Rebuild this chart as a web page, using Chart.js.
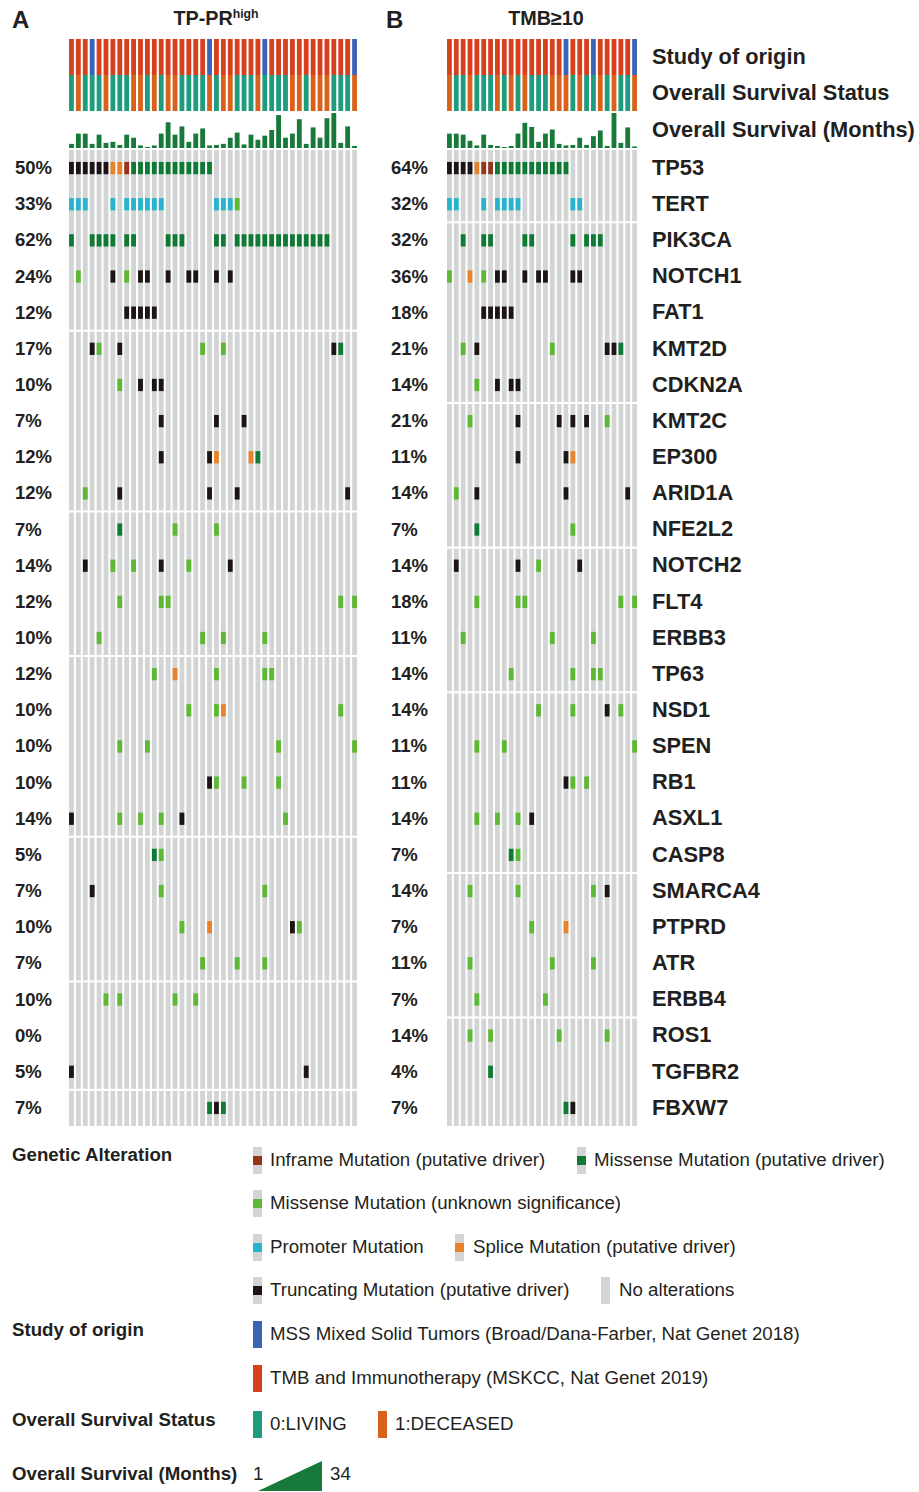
<!DOCTYPE html>
<html><head><meta charset="utf-8">
<script src="https://cdn.jsdelivr.net/npm/chart.js@4.4.0/dist/chart.umd.min.js"></script>
<style>
html,body{margin:0;padding:0}
body{width:919px;height:1492px;background:#fff;position:relative;overflow:hidden;font-family:"Liberation Sans",Arial,Helvetica,sans-serif;color:#231f20}
.abs{position:absolute;white-space:nowrap}
canvas{position:absolute;display:block}
sup{font-size:62%;vertical-align:0;position:relative;top:-0.55em}
</style></head><body>
<script>
// ---------------- DATA ----------------
const genes = ['TP53','TERT','PIK3CA','NOTCH1','FAT1','KMT2D','CDKN2A','KMT2C','EP300','ARID1A','NFE2L2','NOTCH2','FLT4','ERBB3','TP63','NSD1','SPEN','RB1','ASXL1','CASP8','SMARCA4','PTPRD','ATR','ERBB4','ROS1','TGFBR2','FBXW7'];
const pctA = ['50%','33%','62%','24%','12%','17%','10%','7%','12%','12%','7%','14%','12%','10%','12%','10%','10%','10%','14%','5%','7%','10%','7%','10%','0%','5%','7%'];
const pctB = ['64%','32%','32%','36%','18%','21%','14%','21%','11%','14%','7%','14%','18%','11%','14%','14%','11%','11%','14%','7%','14%','7%','11%','7%','14%','4%','7%'];

// Study of origin per sample: R = TMB and Immunotherapy (MSKCC), B = MSS Mixed Solid Tumors
const studyA = "RRRBRRRRRR"+"RRRRRRRRRR"+"BRRRRRRRBR"+"RRRRRRRRRR"+"RB";
const studyB = "RRRRRRRRRR"+"RRRRRRRBRR"+"RBRRRRRB";
// Overall survival status: L = 0:LIVING, D = 1:DECEASED
const statusA = "LDLLLDLLLD"+"DLDLDDLLLL"+"DLDDLLLDLL"+"LLDDLDDDLL"+"LD";
const statusB = "DLLDLLLDLD"+"LDLLLDDDLD"+"LLDLDLLD";
// Overall survival (months)
const survA = [4,14,14,4,13,5,6,3,13,10,2.5,1,2.5,14,25,13,21,6,14,19,2.5,3,4,10,15,3.5,13,8,12,17.5,32,10,14,28,4,20,10,29,34,5,21,2];
const survB = [14,14,13,7,2.5,13,3,2,1,2,14,24.5,20.5,6,14,18,4,2.5,3,10,3,11.5,17,2,34,5,20,1.5];

// Alterations (sample indices). T truncating, D missense driver, m missense unknown, P promoter, S splice, I inframe
const altA = [
 "T0-5 S6-7 I8 D9-20",            // TP53
 "P0-2,6,8-13,21-23 m24",         // TERT
 "D0,3-6,8-9,14-16,21-22,24-37",  // PIK3CA
 "m1,8 T6,10,11,14,17,18,21,23",  // NOTCH1
 "T8-12",                         // FAT1
 "T3,7,38 m4,19,22 D39",          // KMT2D
 "m7 T10,12,13",                  // CDKN2A
 "T13,21,25",                     // KMT2C
 "T13,20 S21,26 D27",             // EP300
 "m2 T7,20,24,40",                // ARID1A
 "D7 m15,21",                     // NFE2L2
 "T2,13,23 m6,9,17",              // NOTCH2
 "m7,13,14,39,41",                // FLT4
 "m4,19,22,28",                   // ERBB3
 "m12,21,28,29 S15",              // TP63
 "m17,21,39 S22",                 // NSD1
 "m7,11,30,41",                   // SPEN
 "T20 m21,25,30",                 // RB1
 "T0,16 m7,10,13,31",             // ASXL1
 "D12 m13",                       // CASP8
 "T3 m13,28",                     // SMARCA4
 "m16,33 S20 T32",                // PTPRD
 "m19,24,28",                     // ATR
 "m5,7,15,18",                    // ERBB4
 "",                              // ROS1
 "T0,34",                         // TGFBR2
 "D20,22 T21"                     // FBXW7
];
const altB = [
 "T0-3 S4 I5-6 D7-17",
 "P0,1,5,7-10,18,19",
 "D2,5,6,11,12,18,20-22",
 "m0,5 S3 T7,8,11,13,14,18,19",
 "T5-9",
 "m2,15 T4,23,24 D25",
 "m4 T7,9,10",
 "m3,23 T10,16,18,20",
 "T10,17 S18",
 "m1 T4,17,26",
 "D4 m18",
 "T1,10,19 m13",
 "m4,10,11,25,27",
 "m2,15,21",
 "m9,18,21,22",
 "m13,18,25 T23",
 "m4,8,27",
 "T17 m18,20",
 "m4,7,10 T12",
 "D9 m10",
 "m3,10,21 T23",
 "m12 S17",
 "m3,15,21",
 "m4,14",
 "m3,6,16,23",
 "D6",
 "D17 T18"
];
// row indices where a new block of the grid starts (thin white break)
const breaksA = [5,10,14,19,23,26];
const breaksB = [2,7,11,15,20,24];

// ---------------- STYLE ----------------
const ALT_COL = {T:'#1c1415', D:'#0e7a34', m:'#5db833', P:'#27b4cf', S:'#e8832b', I:'#973418'};
const STUDY_COL = {R:'#d6401d', B:'#3b63b6'};
const STATUS_COL = {L:'#1f9b7e', D:'#d8621b'};
const SURV_COL = '#17793a';
const GREY = '#d3d4d4';
const ROW_H = 36.15, GRID_TOP = 150;

function parseAlt(spec){
  const out=[];
  spec.split(/\s+/).filter(Boolean).forEach(tok=>{
    const code=tok[0];
    tok.slice(1).split(',').forEach(p=>{
      const [a,b]=p.split('-').map(Number);
      for(let k=a;k<=(isNaN(b)?a:b);k++) out.push({col:k,code});
    });
  });
  return out;
}

function baseOptions(yMin,yMax,reverse){
  return {
    responsive:false, animation:false, events:[],
    layout:{padding:0},
    plugins:{legend:{display:false},tooltip:{enabled:false}},
    datasets:{bar:{grouped:false,categoryPercentage:1,barPercentage:0.7,borderWidth:0}},
    scales:{
      x:{type:'category',display:false,offset:true,grid:{display:false}},
      y:{type:'linear',display:false,min:yMin,max:yMax,reverse:reverse,grid:{display:false}}
    }
  };
}
function mkCanvas(left,top,w,h){
  const c=document.createElement('canvas');
  c.width=w;c.height=h;c.style.left=left+'px';c.style.top=top+'px';
  c.style.width=w+'px';c.style.height=h+'px';
  document.body.appendChild(c);return c;
}
function text(html,x,yc,size,weight,align){
  const d=document.createElement('div');
  d.className='abs';
  d.style.fontSize=size+'px';d.style.fontWeight=weight||'normal';
  d.style.lineHeight=(size*1.4)+'px';d.style.height=(size*1.4)+'px';
  d.style.top=(yc-size*0.7)+'px';
  if(align==='center'){d.style.left=(x-200)+'px';d.style.width='400px';d.style.textAlign='center';}
  else d.style.left=x+'px';
  d.innerHTML=html;document.body.appendChild(d);return d;
}

function panel(cfg){
  const n=cfg.study.length;
  const labels=Array.from({length:n},(_,i)=>'S'+(i+1));
  // Study + status rows
  new Chart(mkCanvas(cfg.left,39,cfg.width,72),{
    type:'bar',
    data:{labels,datasets:[
      {data:labels.map(()=>[-0.5,0.5]),backgroundColor:cfg.study.split('').map(s=>STUDY_COL[s])},
      {data:labels.map(()=>[0.5,1.5]),backgroundColor:cfg.status.split('').map(s=>STATUS_COL[s])}
    ]},
    options:baseOptions(-0.5,1.5,true)
  });
  // Overall survival months
  new Chart(mkCanvas(cfg.left,112,cfg.width,36),{
    type:'bar',
    data:{labels,datasets:[{data:cfg.surv,backgroundColor:SURV_COL}]},
    options:baseOptions(0,35,false)
  });
  // Alteration grid
  const ds=[];
  const starts=[0,...cfg.breaks], ends=[...cfg.breaks.map(b=>b-1),genes.length-1];
  const G=0.028;
  starts.forEach((s,k)=>{
    const lo=(s===0?-0.5:s-0.5+G), hi=(ends[k]===genes.length-1?ends[k]+0.5:ends[k]+0.5-G);
    ds.push({data:labels.map(()=>[lo,hi]),backgroundColor:GREY,order:2});
  });
  const byCode={};
  cfg.alts.forEach((spec,r)=>{
    parseAlt(spec).forEach(a=>{
      (byCode[a.code]=byCode[a.code]||[]).push({x:labels[a.col],y:[r-0.17,r+0.17]});
    });
  });
  Object.keys(byCode).forEach(c=>ds.push({data:byCode[c],backgroundColor:ALT_COL[c],order:1}));
  const gh=Math.round(ROW_H*genes.length);
  const ch=new Chart(mkCanvas(cfg.left,GRID_TOP,cfg.width,gh),{
    type:'bar',data:{labels,datasets:ds},options:baseOptions(-0.5,genes.length-0.5,true)
  });
  const ys=ch.scales.y;
  cfg.pct.forEach((p,r)=>text(p,cfg.pctX,GRID_TOP+ys.getPixelForValue(r),18.5,'bold'));
  return ys;
}

const ysA=panel({study:studyA,status:statusA,surv:survA,alts:altA,breaks:breaksA,pct:pctA,pctX:15,left:67.5,width:290});
panel({study:studyB,status:statusB,surv:survB,alts:altB,breaks:breaksB,pct:pctB,pctX:391,left:445.5,width:192});

// gene names on the right
genes.forEach((g,r)=>text(g,652,GRID_TOP+ysA.getPixelForValue(r),21.8,'bold'));
text('Study of origin',652,57,21.8,'bold');
text('Overall Survival Status',652,93,21.8,'bold');
text('Overall Survival (Months)',652,130,21.8,'bold');

// panel titles
text('A',12,20,24,'bold');
text('B',386,20,24,'bold');
text('TP-PR<sup>high</sup>',216,19,19.8,'bold','center');
text('TMB≥10',546,19,19.8,'bold','center');

// ---------------- LEGEND ----------------
function swatch(x,yc,fill,full){
  const d=document.createElement('div');
  d.className='abs';
  d.style.left=x+'px';d.style.top=(yc-13.5)+'px';d.style.width='9px';d.style.height='27px';
  d.style.background=full?fill:GREY;
  if(!full&&fill){
    const b=document.createElement('div');
    b.style.position='absolute';b.style.left='0';b.style.top='9px';b.style.width='9px';b.style.height='9px';
    b.style.background=fill;d.appendChild(b);
  }
  document.body.appendChild(d);
}
const LS=18.7;
text('Genetic Alteration',12,1155,LS,'bold');
const altLegend=[
  ['I','Inframe Mutation (putative driver)',253,270,1160],
  ['D','Missense Mutation (putative driver)',577,594,1160],
  ['m','Missense Mutation (unknown significance)',253,270,1203],
  ['P','Promoter Mutation',253,270,1247],
  ['S','Splice Mutation (putative driver)',455,473,1247],
  ['T','Truncating Mutation (putative driver)',253,270,1290],
  [null,'No alterations',601,619,1290]
];
altLegend.forEach(([c,t,sx,tx,y])=>{swatch(sx,y,c?ALT_COL[c]:null,false);text(t,tx,y,LS);});
text('Study of origin',12,1330,LS,'bold');
swatch(253,1334,STUDY_COL.B,true);text('MSS Mixed Solid Tumors (Broad/Dana-Farber, Nat Genet 2018)',270,1334,LS);
swatch(253,1378,STUDY_COL.R,true);text('TMB and Immunotherapy (MSKCC, Nat Genet 2019)',270,1378,LS);
text('Overall Survival Status',12,1420,LS,'bold');
swatch(253,1424,STATUS_COL.L,true);text('0:LIVING',270,1424,LS);
swatch(378,1424,STATUS_COL.D,true);text('1:DECEASED',395,1424,LS);
text('Overall Survival (Months)',12,1474,LS,'bold');
text('1',253,1474,LS);
const tri=document.createElementNS('http://www.w3.org/2000/svg','svg');
tri.setAttribute('width','70');tri.setAttribute('height','32');
tri.style.position='absolute';tri.style.left='258px';tri.style.top='1460px';
tri.innerHTML='<polygon points="0,31 64,1 64,31" fill="'+SURV_COL+'"/>';
document.body.appendChild(tri);
text('34',330,1474,LS);
</script>
</body></html>
